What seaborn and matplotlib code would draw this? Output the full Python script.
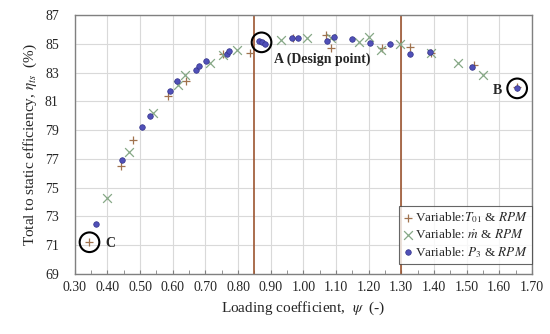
import matplotlib
matplotlib.use("Agg")
import matplotlib.pyplot as plt
import seaborn as sns
import pandas as pd
from matplotlib.ticker import MultipleLocator, FixedLocator

# Variable: T01 & RPM  (plus markers)
psi_t01 = [0.345, 0.44, 0.477, 0.587, 0.64, 0.754, 0.836, 0.967, 1.068, 1.086, 1.24, 1.326, 1.39, 1.523, 1.655]
eta_t01 = [71.2, 76.5, 78.3, 81.4, 82.4, 84.3, 84.35, 85.4, 85.63, 84.7, 84.68, 84.75, 84.35, 83.5, 82.0]

# Variable: mdot & RPM  (x markers)
psi_mdot = [0.399, 0.467, 0.539, 0.617, 0.638, 0.714, 0.753, 0.797, 0.933, 1.01, 1.084, 1.171, 1.20, 1.237, 1.296, 1.39, 1.474, 1.549]
eta_mdot = [74.3, 77.5, 80.17, 82.13, 82.8, 83.64, 84.22, 84.6, 85.25, 85.38, 85.38, 85.14, 85.5, 84.6, 85.0, 84.34, 83.64, 82.83]

# Variable: P3 & RPM  (dots)
psi_p3 = [0.366, 0.445, 0.506, 0.53, 0.591, 0.613, 0.672, 0.681, 0.701, 0.766, 0.772, 0.865, 0.874, 0.884,
          0.964, 0.984, 1.073, 1.094, 1.148, 1.204, 1.265, 1.328, 1.388, 1.517, 1.655]
eta_p3 = [72.47, 76.9, 79.19, 80.0, 81.74, 82.38, 83.15, 83.45, 83.82, 84.3, 84.53, 85.21, 85.1, 84.98,
          85.38, 85.38, 85.21, 85.5, 85.33, 85.07, 84.98, 84.27, 84.41, 83.41, 81.9]

design_limits = [0.85, 1.30]
highlight_psi = [0.345, 0.872, 1.655]
highlight_eta = [71.2, 85.1, 81.9]
y_ticks = [69, 71, 73, 75, 77, 79, 81, 83, 85, 87]

sns.set_style("whitegrid", {"grid.color": "#d9d9d9", "axes.edgecolor": "#808080"})
plt.rcParams['font.family'] = ['Liberation Serif', 'DejaVu Serif']
plt.rcParams['mathtext.fontset'] = 'stix'

fig = plt.figure(figsize=(5.5, 3.34), dpi=100)
ax = fig.add_axes([0.136, 0.18, 0.831, 0.775])

sns.scatterplot(x=psi_t01, y=eta_t01, marker='+', s=36, color='#A0724E', linewidth=0.9,
                label='Variable:$T_{01}$ & $RPM$', ax=ax, zorder=3)
sns.scatterplot(x=psi_mdot, y=eta_mdot, marker='x', s=40, color='#86A886', linewidth=0.9,
                label='Variable: $\\dot{m}$ & $RPM$', ax=ax, zorder=3)
sns.scatterplot(x=psi_p3, y=eta_p3, marker='o', s=16, color='#5050B8', edgecolor='#33338A',
                linewidth=0.5, label='Variable: $P_3$ & $RPM$', ax=ax, zorder=4)

for xv in design_limits:
    ax.axvline(xv, color='#9C5530', linewidth=1.2, zorder=2)

ax.scatter(highlight_psi, highlight_eta, s=200, facecolors='none', edgecolors='black',
           linewidths=1.5, zorder=5)
ax.text(0.91, 83.9, 'A (Design point)', fontsize=10, fontweight='bold', va='center', ha='left')
ax.text(1.61, 81.75, 'B', fontsize=10, fontweight='bold', va='center', ha='right')
ax.text(0.395, 71.1, 'C', fontsize=10, fontweight='bold', va='center', ha='left')

ax.set_xlim(0.30, 1.70)
ax.set_ylim(69, 87)
ax.xaxis.set_major_locator(MultipleLocator(0.1))
ax.xaxis.set_minor_locator(MultipleLocator(0.05))
ax.yaxis.set_major_locator(FixedLocator(y_ticks))
ax.xaxis.set_major_formatter(matplotlib.ticker.FormatStrFormatter('%.2f'))
ax.tick_params(axis='x', which='both', direction='in', bottom=True, length=3, color='#808080',
               labelsize=10, pad=5)
ax.tick_params(axis='y', labelsize=10, left=False, pad=8)
ax.grid(True, which='major', color='#d9d9d9', linewidth=0.8)
for sp in ax.spines.values():
    sp.set_color('#808080')
    sp.set_linewidth(1.0)

ax.set_xlabel('Loading coefficient,  $\\psi$  (-)', fontsize=11)
ax.set_ylabel('Total to static efficiency, $\\eta_{ts}$  (%)', fontsize=11)

leg = ax.legend(loc='lower right', bbox_to_anchor=(1.0, 0.04), fontsize=9.5, frameon=True,
                fancybox=False, borderaxespad=0.0, handletextpad=0.1, handlelength=0.8,
                borderpad=0.3, labelspacing=0.25)
leg.get_frame().set_edgecolor('#404040')
leg.get_frame().set_linewidth(0.8)

fig.savefig('out.png', dpi=100)
plt.close()
